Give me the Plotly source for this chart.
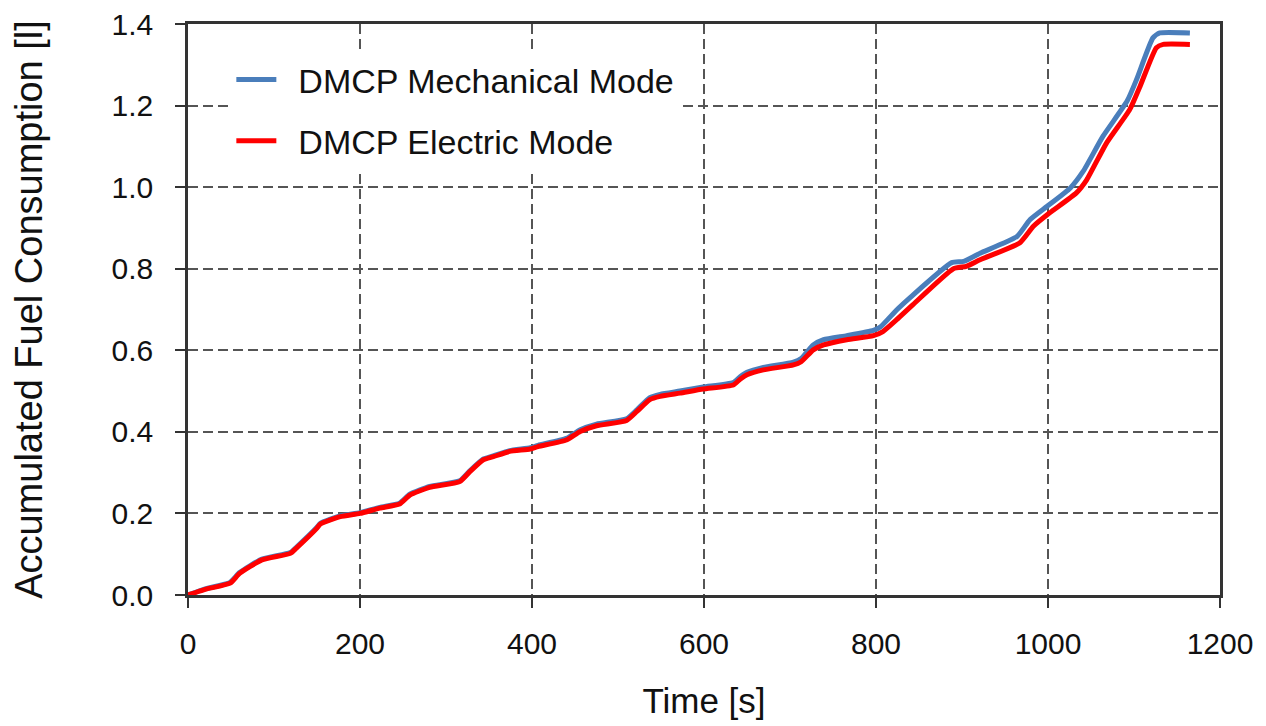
import plotly.graph_objects as go

# Time [s] and accumulated fuel [l]
t_electric = [0, 20, 49, 60, 86, 119, 126, 150, 154, 177, 200, 223, 246, 258, 281, 316, 328, 343, 355, 374,
              398, 407, 440, 456, 475, 510, 522, 537, 549, 572, 599, 634, 642, 650, 669, 704, 713, 727, 739,
              766, 797, 808, 824, 843, 890, 905, 921, 967, 983, 1002, 1033, 1045, 1068, 1095, 1107, 1126,
              1134, 1165]
v_electric = [0, 0.014, 0.029, 0.053, 0.086, 0.102, 0.115, 0.164, 0.174, 0.192, 0.200, 0.213, 0.223, 0.245,
              0.264, 0.278, 0.303, 0.331, 0.339, 0.352, 0.358, 0.364, 0.380, 0.401, 0.415, 0.428, 0.450,
              0.479, 0.487, 0.495, 0.505, 0.515, 0.529, 0.540, 0.552, 0.564, 0.572, 0.601, 0.613, 0.626,
              0.636, 0.646, 0.675, 0.712, 0.800, 0.806, 0.822, 0.863, 0.904, 0.937, 0.986, 1.018, 1.108,
              1.190, 1.247, 1.342, 1.350, 1.350]

t_mech = [0, 20, 49, 60, 86, 119, 126, 150, 154, 177, 200, 223, 246, 258, 281, 316, 328, 343, 355, 374,
          398, 407, 440, 456, 475, 510, 522, 537, 549, 572, 599, 634, 642, 650, 669, 704, 713, 727, 739,
          766, 797, 805, 824, 840, 888, 902, 921, 964, 979, 999, 1026, 1041, 1064, 1092, 1103, 1122,
          1130, 1165]
v_mech = [0, 0.015, 0.031, 0.055, 0.088, 0.104, 0.117, 0.166, 0.176, 0.194, 0.202, 0.215, 0.225, 0.247,
          0.266, 0.280, 0.305, 0.333, 0.341, 0.354, 0.361, 0.367, 0.384, 0.405, 0.419, 0.432, 0.454,
          0.484, 0.492, 0.500, 0.510, 0.521, 0.535, 0.546, 0.558, 0.571, 0.580, 0.613, 0.626, 0.636,
          0.649, 0.657, 0.699, 0.730, 0.815, 0.818, 0.838, 0.879, 0.920, 0.953, 0.998, 1.039, 1.125,
          1.211, 1.264, 1.366, 1.378, 1.378]

x_ticks = [0, 200, 400, 600, 800, 1000, 1200]
y_ticks = [0.0, 0.2, 0.4, 0.6, 0.8, 1.0, 1.2, 1.4]
y_tick_labels = ["0.0", "0.2", "0.4", "0.6", "0.8", "1.0", "1.2", "1.4"]

FONT = "Liberation Sans, Arial, sans-serif"

fig = go.Figure()
fig.add_trace(go.Scatter(x=t_mech, y=v_mech, mode="lines", name="\u2002DMCP Mechanical Mode",
                         legendgroup="a",
                         line=dict(color="#4a7ebb", width=5, shape="spline", smoothing=0.5)))
fig.add_trace(go.Scatter(x=t_electric, y=v_electric, mode="lines", name="\u2002DMCP Electric Mode",
                         legendgroup="b",
                         line=dict(color="#ff0000", width=5, shape="spline", smoothing=0.5)))

axis_common = dict(
    showline=True, linecolor="#333333", linewidth=2.5, mirror=True,
    showgrid=True, gridcolor="#555555", gridwidth=1.5, griddash="10px,5px",
    ticks="outside", ticklen=10, tickwidth=2, tickcolor="#333333",
    zeroline=False, automargin=False,
    tickfont=dict(family=FONT, size=30, color="#111111"),
)

fig.update_layout(
    width=1266, height=726,
    margin=dict(l=188, r=46, t=24, b=131, autoexpand=False),
    paper_bgcolor="white", plot_bgcolor="white",
    font=dict(family=FONT, color="#111111"),
    showlegend=True,
    legend=dict(x=0.042, y=0.953, xanchor="left", yanchor="top",
                bgcolor="white", borderwidth=0,
                font=dict(family=FONT, size=34, color="#111111"),
                traceorder="grouped", tracegroupgap=14, itemwidth=40),
    xaxis=dict(range=[0, 1200], tickvals=x_ticks, ticklabelstandoff=10,
               title=dict(text="Time [s]", font=dict(family=FONT, size=35), standoff=30),
               **axis_common),
    yaxis=dict(range=[0, 1.4], tickvals=y_ticks, ticktext=y_tick_labels, ticklabelstandoff=16,
               title=dict(text="Accumulated Fuel Consumption [l]", font=dict(family=FONT, size=38), standoff=58),
               **axis_common),
)

fig.write_html("out.html", config={"displayModeBar": False},
               post_script="document.body.style.margin='0px';")
